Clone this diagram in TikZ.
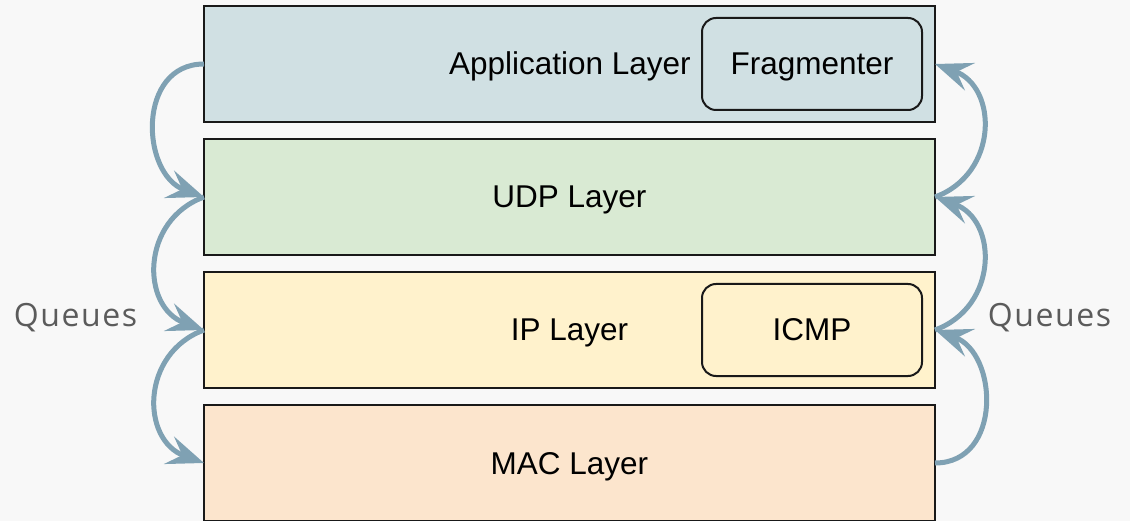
\documentclass[tikz,border=0pt]{standalone}
\usepackage{fontspec}
\setmainfont{Liberation Sans}
\newfontfamily\queuesfont[LetterSpace=5]{Open Sans}
\usetikzlibrary{positioning}
\usetikzlibrary{arrows.meta}
\definecolor{bggray}{HTML}{F8F8F8}
\definecolor{appfill}{HTML}{D0E0E3}
\definecolor{udpfill}{HTML}{D9EAD3}
\definecolor{ipfill}{HTML}{FFF2CC}
\definecolor{macfill}{HTML}{FCE5CD}
\definecolor{queueblue}{HTML}{7FA1B3}
\definecolor{queuetext}{HTML}{5B5B5B}

\begin{document}
\begin{tikzpicture}[x=1pt, y=1pt,
    layer/.style={rectangle, draw=black!90, line width=2pt, outer sep=0pt, minimum width=731pt, minimum height=115.5pt, inner sep=0pt, text height=22pt, text depth=0pt, font=\fontsize{31.5}{36}\selectfont},
    module/.style={rectangle, draw=black!90, line width=2pt, outer sep=0pt, rounded corners=14pt, minimum width=220pt, minimum height=92pt, inner sep=0pt, text height=22pt, text depth=0pt, font=\fontsize{31.5}{36}\selectfont},
    queue/.style={draw=queueblue, line width=5pt, looseness=1.3, -{Stealth[length=37pt, width=29pt, inset=14pt]}},
    qlabel/.style={text=queuetext, inner sep=0pt, font=\queuesfont\fontsize{32}{36}\selectfont}
]
    \fill[bggray] (0,0) rectangle (1130,-521);
    \useasboundingbox (0,0) rectangle (1130,-521);

    % protocol stack
    \node[layer, fill=appfill] (app) at (569.5,-64) {};
    \node[layer, fill=udpfill, below=17.5pt of app] (udp) {UDP Layer};
    \node[layer, fill=ipfill, below=17.5pt of udp] (ip) {IP Layer};
    \node[layer, fill=macfill, below=17.5pt of ip] (mac) {MAC Layer};

    \node[module, fill=appfill, left=13pt of app.east, anchor=east] (frag) {Fragmenter};
    \node[left=11pt of frag, inner sep=0pt, text height=22pt, text depth=0pt, font=\fontsize{31.5}{36}\selectfont] (applabel) {Application Layer};
    \node[module, fill=ipfill, left=13pt of ip.east, anchor=east] (icmp) {ICMP};

    % queues going down on the left, up on the right
    \draw[queue] (app.west) to[out=180, in=160] (udp.west);
    \draw[queue] (udp.west) to[out=200, in=160] (ip.west);
    \draw[queue] (ip.west) to[out=200, in=160] (mac.west);
    \draw[queue] (mac.east) to[out=0, in=-20] (ip.east);
    \draw[queue] (ip.east) to[out=20, in=-20] (udp.east);
    \draw[queue] (udp.east) to[out=20, in=-20] (app.east);

    \node[qlabel] (qleft) at (75.5,-317.4) {Queues};
    \node[qlabel] (qright) at (1049.5,-317.4) {Queues};
\end{tikzpicture}
\end{document}
